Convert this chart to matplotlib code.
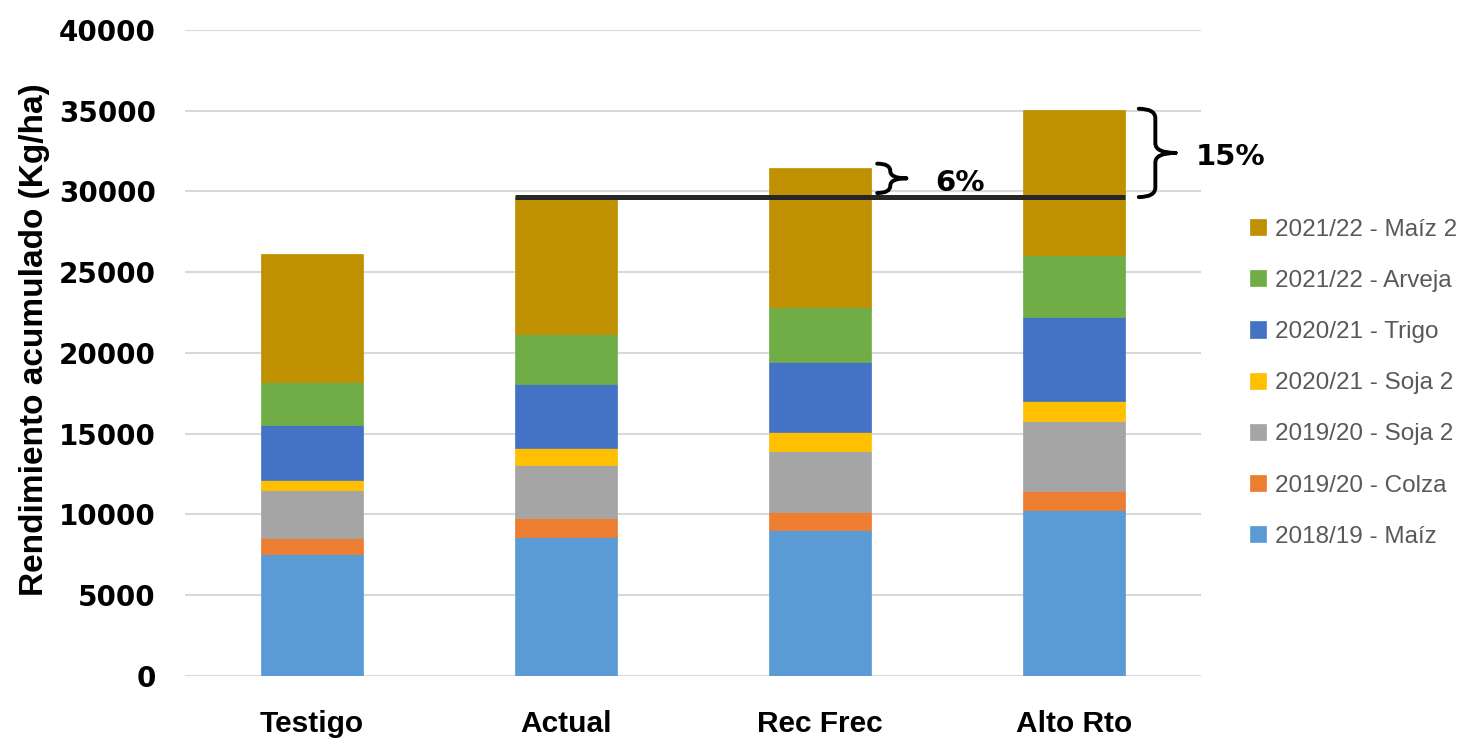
import matplotlib
matplotlib.use("Agg")
import matplotlib.pyplot as plt
from matplotlib.path import Path
from matplotlib.patches import PathPatch
import numpy as np

categories = ["Testigo", "Actual", "Rec Frec", "Alto Rto"]
series_labels = ["2018/19 - Maíz", "2019/20 - Colza", "2019/20 - Soja 2",
                 "2020/21 - Soja 2", "2020/21 - Trigo", "2021/22 - Arveja",
                 "2021/22 - Maíz 2"]
# cumulative tops of each stacked segment (kg/ha)
cum_maiz = [7520, 8610, 9005, 10260]
cum_colza = [8550, 9750, 10140, 11445]
cum_soja_1920 = [11505, 13075, 13910, 15780]
cum_soja_2021 = [12145, 14125, 15070, 17040]
cum_trigo = [15550, 18055, 19455, 22225]
cum_arveja = [18215, 21190, 22845, 26065]
cum_maiz2 = [26110, 29650, 31470, 35070]
colors = ["#5B9BD5", "#ED7D31", "#A5A5A5", "#FFC000", "#4472C4", "#70AD47", "#BF9000"]

reference_total = cum_maiz2[1]
gain_labels = ["6%", "15%"]

fig = plt.figure(figsize=(14.57, 7.40), dpi=100)
ax = fig.add_axes([185 / 1457, 64.3 / 740, 1016 / 1457, 645.7 / 740])

x = np.arange(len(categories))
width = 0.4
tops = [cum_maiz, cum_colza, cum_soja_1920, cum_soja_2021, cum_trigo, cum_arveja, cum_maiz2]
bottom = np.zeros(len(categories))
handles = []
for lab, top, col in zip(series_labels, tops, colors):
    top = np.array(top, dtype=float)
    h = ax.bar(x, top - bottom, width, bottom=bottom, color=col, label=lab,
               edgecolor=col, linewidth=0.5, zorder=2)
    handles.append(h)
    bottom = top

ax.set_xlim(-0.5, 3.5)
ax.set_ylim(0, 40000)
ax.set_yticks(np.arange(0, 40001, 5000))
ax.yaxis.grid(True, color="#D9D9D9", linewidth=1.5, zorder=0)
ax.set_axisbelow(True)
for s in ax.spines.values():
    s.set_visible(False)
ax.tick_params(axis="both", length=0)
ax.tick_params(axis="y", pad=21)
ax.tick_params(axis="x", pad=25)
ax.set_xticks(x)
ax.set_xticklabels(categories, fontsize=21.5, fontweight="bold",
                   family=["Liberation Sans"])
for t in ax.get_yticklabels():
    t.set_fontsize(20)
    t.set_fontweight("bold")
    t.set_family(["DejaVu Sans"])

ax.set_ylabel("Rendimiento acumulado (Kg/ha)", fontsize=24, fontweight="bold",
              family=["Liberation Sans"], labelpad=6)
ax.yaxis.label.set_y(0.52)

# reference line at the current system's total
ax.plot([0.8, 3.2], [reference_total, reference_total], color="#262626",
        linewidth=3.6, solid_capstyle="butt", zorder=4)


def brace(ax, x0, x1, y_bot, y_top, r=550, lw=2.8):
    """Right-pointing curly brace spanning y_bot..y_top, between x0 and x1."""
    xm = x0 + (x1 - x0) * 0.45
    ymid = (y_bot + y_top) / 2
    verts = [
        (x0, y_top), (xm, y_top), (xm, y_top - r),
        (xm, ymid + r),
        (xm, ymid), (x1, ymid),
        (x1, ymid),
        (xm, ymid), (xm, ymid - r),
        (xm, y_bot + r),
        (xm, y_bot), (x0, y_bot),
    ]
    codes = [Path.MOVETO, Path.CURVE3, Path.CURVE3,
             Path.LINETO,
             Path.CURVE3, Path.CURVE3,
             Path.MOVETO,
             Path.CURVE3, Path.CURVE3,
             Path.LINETO,
             Path.CURVE3, Path.CURVE3]
    ax.add_patch(PathPatch(Path(verts, codes), facecolor="none", edgecolor="black",
                           linewidth=lw, clip_on=False, zorder=5,
                           capstyle="round", joinstyle="round"))


brace(ax, 2.225, 2.34, reference_total + 250, cum_maiz2[2] + 250, r=450)
ax.text(2.55, (reference_total + cum_maiz2[2]) / 2 - 50, gain_labels[0],
        fontsize=21, fontweight="bold", ha="center", va="center",
        family=["DejaVu Sans"], clip_on=False)
brace(ax, 3.255, 3.40, reference_total, cum_maiz2[3] + 50, r=600)
ax.text(3.615, (reference_total + cum_maiz2[3]) / 2 - 250, gain_labels[1],
        fontsize=21, fontweight="bold", ha="center", va="center",
        family=["DejaVu Sans"], clip_on=False)

leg = fig.legend(handles[::-1], series_labels[::-1], loc="upper left",
                 bbox_to_anchor=(1240 / 1457, 1 - 209 / 740), frameon=False,
                 fontsize=17.5, labelspacing=1.2, handlelength=0.65,
                 handleheight=0.65, handletextpad=0.4, borderaxespad=0)
for t in leg.get_texts():
    t.set_color("#595959")
    t.set_family(["Liberation Sans", "DejaVu Sans"])

fig.savefig("out.png", dpi=100)
